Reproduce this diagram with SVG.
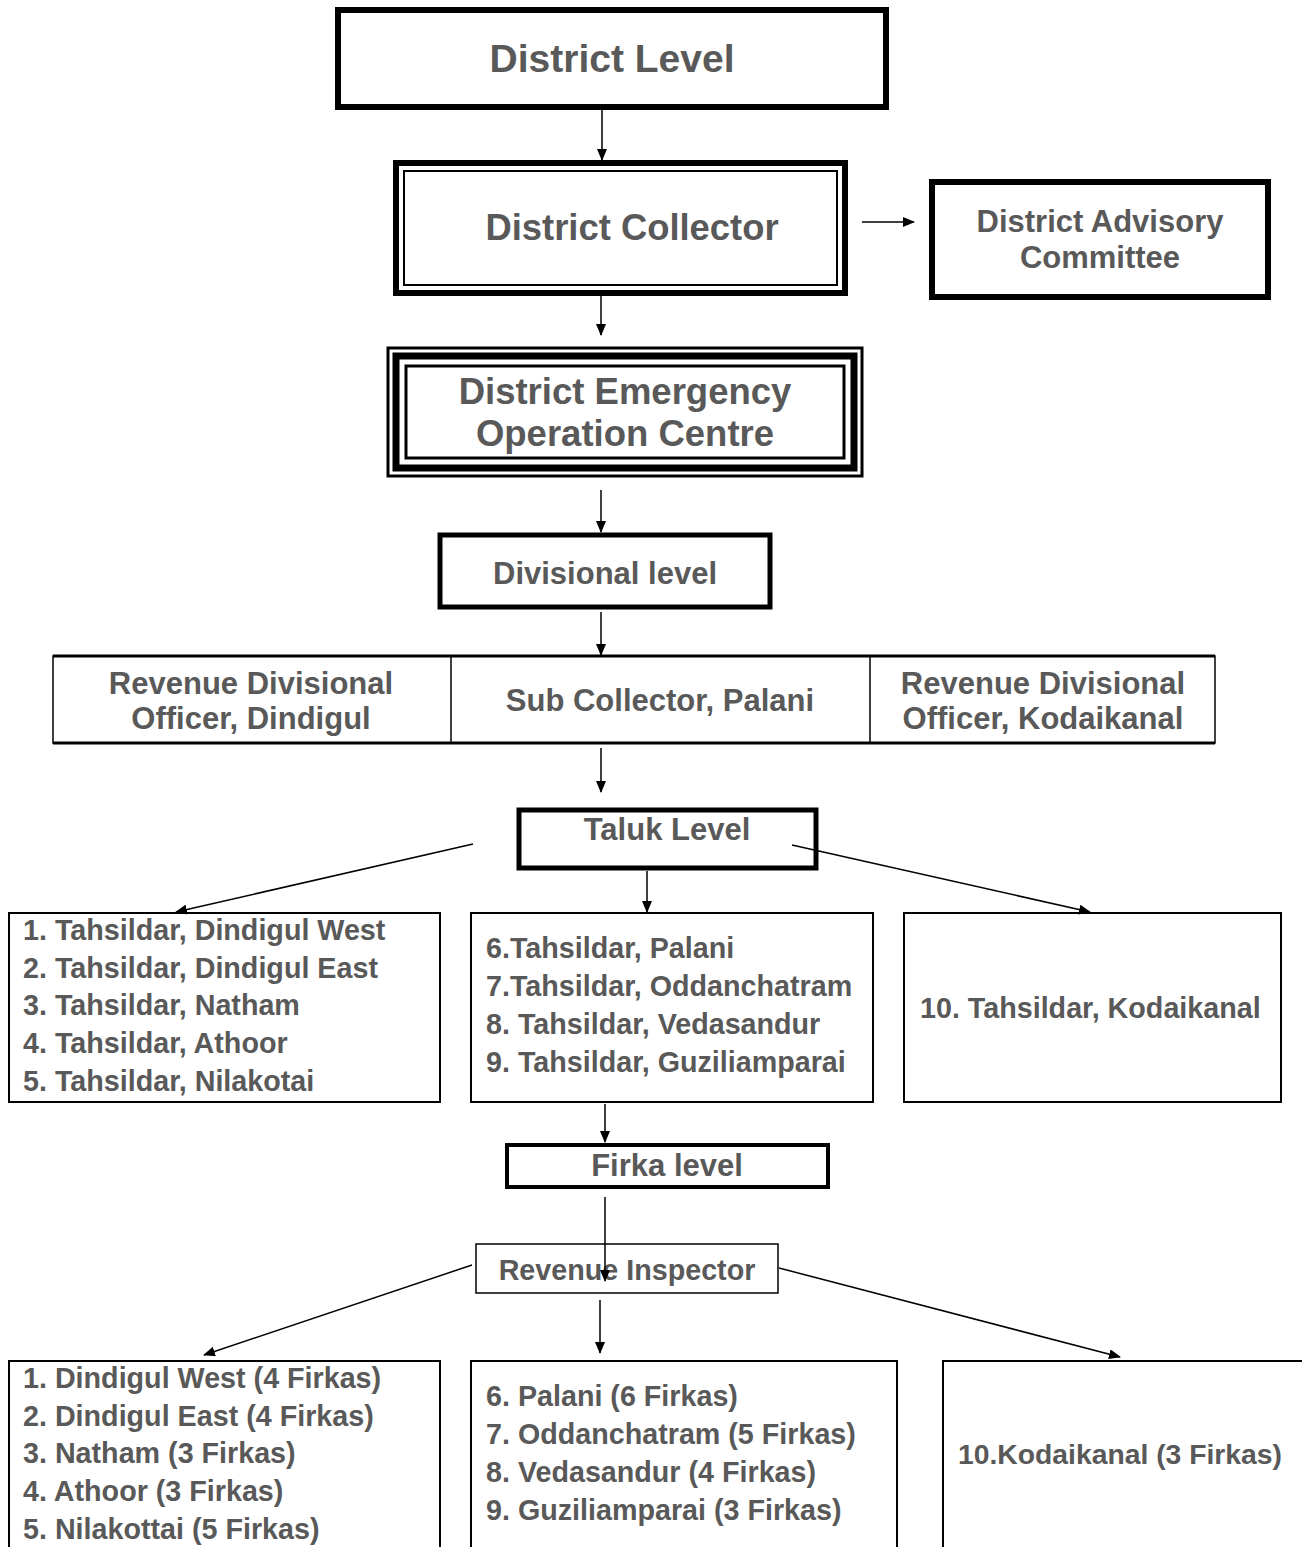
<svg xmlns="http://www.w3.org/2000/svg" width="1302" height="1547" viewBox="0 0 1302 1547">
<style>
.t{font-family:"Liberation Sans",Arial,sans-serif;font-weight:bold;fill:#595959}
.c{text-anchor:middle}
.s{font-size:28.7px}
.m{font-size:31px}
.l{stroke:#000;stroke-width:1.5;fill:none}
.b{fill:#fff;stroke:#000}
</style>
<defs>
<marker id="ah" markerWidth="12" markerHeight="10" refX="11" refY="5" orient="auto" markerUnits="userSpaceOnUse">
<path d="M0,0 L12,5 L0,10 Z" fill="#000"/>
</marker>
</defs>
<rect width="1302" height="1547" fill="#fff"/>

<g id="district-level">
<rect class="b" x="338" y="10" width="548" height="97" stroke-width="6"/>
<text class="t c" x="612" y="72" font-size="39">District Level</text>
</g>

<g id="district-collector">
<rect class="b" x="396" y="163" width="449" height="130" stroke-width="6"/>
<rect x="402" y="169" width="437" height="118" fill="none" stroke="#fff" stroke-width="2"/>
<rect x="404" y="171" width="433" height="114" fill="none" stroke="#000" stroke-width="2"/>
<text class="t c" x="632" y="240" font-size="36.4">District Collector</text>
</g>

<g id="district-advisory">
<rect class="b" x="932" y="182" width="336" height="115" stroke-width="6"/>
<text class="t c m" x="1100" y="232">District Advisory</text>
<text class="t c m" x="1100" y="268">Committee</text>
</g>

<g id="deoc">
<rect class="b" x="388" y="348" width="474" height="128" stroke-width="3"/>
<rect x="396" y="356" width="458" height="112" fill="none" stroke="#000" stroke-width="7"/>
<rect x="406" y="366" width="438" height="92" fill="none" stroke="#000" stroke-width="3"/>
<text class="t c" x="625" y="404" font-size="36.5">District Emergency</text>
<text class="t c" x="625" y="446" font-size="36.5">Operation Centre</text>
</g>

<g id="divisional-level">
<rect class="b" x="440" y="535" width="330" height="72" stroke-width="5"/>
<text class="t c m" x="605" y="584">Divisional level</text>
</g>

<g id="division-row">
<rect class="b" x="53" y="656" width="1162" height="87" stroke-width="1.5"/>
<line x1="53" y1="656" x2="1215" y2="656" stroke="#000" stroke-width="3"/>
<line x1="53" y1="743" x2="1215" y2="743" stroke="#000" stroke-width="3"/>
<line x1="451" y1="656" x2="451" y2="743" stroke="#000" stroke-width="1.5"/>
<line x1="870" y1="656" x2="870" y2="743" stroke="#000" stroke-width="1.5"/>
<text class="t c m" x="251" y="694">Revenue Divisional</text>
<text class="t c m" x="251" y="729">Officer, Dindigul</text>
<text class="t c m" x="660" y="711">Sub Collector, Palani</text>
<text class="t c m" x="1043" y="694">Revenue Divisional</text>
<text class="t c m" x="1043" y="729">Officer, Kodaikanal</text>
</g>

<g id="taluk-level">
<rect class="b" x="519" y="810" width="297" height="58" stroke-width="5"/>
<text class="t c m" x="667" y="840">Taluk Level</text>
</g>

<g id="tahsildar-1">
<rect class="b" x="9" y="913" width="431" height="189" stroke-width="2"/>
<text class="t s" x="23" y="940">1. Tahsildar, Dindigul West</text>
<text class="t s" x="23" y="978">2. Tahsildar, Dindigul East</text>
<text class="t s" x="23" y="1015">3. Tahsildar, Natham</text>
<text class="t s" x="23" y="1053">4. Tahsildar, Athoor</text>
<text class="t s" x="23" y="1091">5. Tahsildar, Nilakotai</text>
</g>

<g id="tahsildar-2">
<rect class="b" x="471" y="913" width="402" height="189" stroke-width="2"/>
<text class="t s" x="486" y="958">6.Tahsildar, Palani</text>
<text class="t s" x="486" y="996">7.Tahsildar, Oddanchatram</text>
<text class="t s" x="486" y="1034">8. Tahsildar, Vedasandur</text>
<text class="t s" x="486" y="1072">9. Tahsildar, Guziliamparai</text>
</g>

<g id="tahsildar-3">
<rect class="b" x="904" y="913" width="377" height="189" stroke-width="2"/>
<text class="t s" x="920" y="1018">10. Tahsildar, Kodaikanal</text>
</g>

<g id="firka-level">
<rect class="b" x="507" y="1145" width="321" height="42" stroke-width="4"/>
<text class="t c m" x="667" y="1176">Firka level</text>
</g>

<g id="revenue-inspector">
<rect class="b" x="476" y="1244" width="302" height="49" stroke-width="1.5"/>
<text class="t c s" x="627" y="1280">Revenue Inspector</text>
</g>

<g id="firka-1">
<rect class="b" x="9" y="1361" width="431" height="200" stroke-width="2"/>
<text class="t s" x="23" y="1388">1. Dindigul West (4 Firkas)</text>
<text class="t s" x="23" y="1426">2. Dindigul East (4 Firkas)</text>
<text class="t s" x="23" y="1463">3. Natham (3 Firkas)</text>
<text class="t s" x="23" y="1501">4. Athoor (3 Firkas)</text>
<text class="t s" x="23" y="1539">5. Nilakottai (5 Firkas)</text>
</g>

<g id="firka-2">
<rect class="b" x="471" y="1361" width="426" height="200" stroke-width="2"/>
<text class="t s" x="486" y="1406">6. Palani (6 Firkas)</text>
<text class="t s" x="486" y="1444">7. Oddanchatram (5 Firkas)</text>
<text class="t s" x="486" y="1482">8. Vedasandur (4 Firkas)</text>
<text class="t s" x="486" y="1520">9. Guziliamparai (3 Firkas)</text>
</g>

<g id="firka-3">
<rect class="b" x="943" y="1361" width="370" height="200" stroke-width="2"/>
<text class="t" x="958" y="1464" font-size="28.3">10.Kodaikanal (3 Firkas)</text>
</g>

<g id="connectors">
<line class="l" x1="602" y1="110" x2="602" y2="160" marker-end="url(#ah)"/>
<line class="l" x1="862" y1="222" x2="914" y2="222" marker-end="url(#ah)"/>
<line class="l" x1="601" y1="296" x2="601" y2="335" marker-end="url(#ah)"/>
<line class="l" x1="601" y1="490" x2="601" y2="532" marker-end="url(#ah)"/>
<line class="l" x1="601" y1="612" x2="601" y2="655" marker-end="url(#ah)"/>
<line class="l" x1="601" y1="748" x2="601" y2="792" marker-end="url(#ah)"/>
<line class="l" x1="473" y1="844" x2="176" y2="912" marker-end="url(#ah)"/>
<line class="l" x1="647" y1="871" x2="647" y2="912" marker-end="url(#ah)"/>
<line class="l" x1="792" y1="845" x2="1090" y2="912" marker-end="url(#ah)"/>
<line class="l" x1="605" y1="1104" x2="605" y2="1142" marker-end="url(#ah)"/>
<line class="l" x1="605" y1="1197" x2="605" y2="1281" marker-end="url(#ah)"/>
<line class="l" x1="472" y1="1265" x2="204" y2="1355" marker-end="url(#ah)"/>
<line class="l" x1="600" y1="1300" x2="600" y2="1353" marker-end="url(#ah)"/>
<line class="l" x1="779" y1="1268" x2="1120" y2="1357" marker-end="url(#ah)"/>
</g>
</svg>
